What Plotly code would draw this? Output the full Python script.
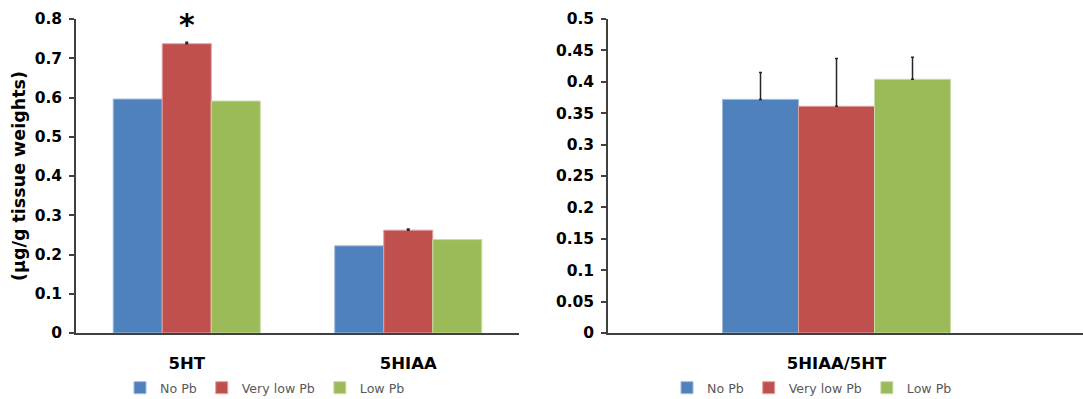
import plotly.graph_objects as go

groups = ["No Pb", "Very low Pb", "Low Pb"]
colors = ["#4F81BD", "#C0504D", "#9BBB59"]
edge = ["#9DB9DD", "#E0A09E", "#C8DBA6"]

left_cats = ["5HT", "5HIAA"]
left_vals = {
    "No Pb": [0.596, 0.222],
    "Very low Pb": [0.737, 0.262],
    "Low Pb": [0.591, 0.238],
}
left_err = {
    "No Pb": None,
    "Very low Pb": [0.004, 0.003],
    "Low Pb": None,
}

right_cats = ["5HIAA/5HT"]
right_vals = {
    "No Pb": [0.372],
    "Very low Pb": [0.361],
    "Low Pb": [0.404],
}
right_err = {
    "No Pb": [0.043],
    "Very low Pb": [0.076],
    "Low Pb": [0.035],
}

left_ticks = [0, 0.1, 0.2, 0.3, 0.4, 0.5, 0.6, 0.7, 0.8]
right_ticks = [0, 0.05, 0.1, 0.15, 0.2, 0.25, 0.3, 0.35, 0.4, 0.45, 0.5]

fig = go.Figure()

for g, c, e in zip(groups, colors, edge):
    err = left_err[g]
    fig.add_trace(go.Bar(
        x=left_cats, y=left_vals[g], name=g, marker=dict(color=c, line=dict(color=e, width=1)),
        error_y=dict(type="data", array=err, symmetric=False, arrayminus=[0] * len(left_cats),
                     color="#262626", thickness=1.5, width=1.5, visible=err is not None),
        xaxis="x", yaxis="y", legend="legend",
    ))

for g, c, e in zip(groups, colors, edge):
    err = right_err[g]
    fig.add_trace(go.Bar(
        x=right_cats, y=right_vals[g], name=g, marker=dict(color=c, line=dict(color=e, width=1)),
        error_y=dict(type="data", array=err, symmetric=False, arrayminus=[0],
                     color="#262626", thickness=1.5, width=1.5),
        xaxis="x2", yaxis="y2", legend="legend2",
    ))

W, H = 1083, 399
axis_col = "#404040"
tickfont = dict(family="DejaVu Sans", size=15.5, color="#000000", weight="bold")
catfont = dict(family="DejaVu Sans", size=16.5, color="#000000", weight="bold")
legfont = dict(family="DejaVu Sans", size=12.6, color="#595959")

fig.update_layout(
    width=W, height=H,
    margin=dict(l=0, r=0, t=0, b=0, autoexpand=False),
    paper_bgcolor="white", plot_bgcolor="white",
    barmode="group", bargap=0.336, bargroupgap=0,
    font=dict(family="DejaVu Sans"),
    xaxis=dict(domain=[76 / W, 519 / W], range=[-0.5, 1.5], anchor="y", automargin=False,
               showline=True, linecolor=axis_col, linewidth=1.5, ticks="",
               tickfont=catfont, ticklabelstandoff=14, showgrid=False, zeroline=False),
    yaxis=dict(domain=[1 - 333 / H, 1 - 19 / H], range=[0, 0.8], anchor="x", automargin=False,
               tickvals=left_ticks, ticktext=[f"{v:g}" for v in left_ticks],
               showline=True, linecolor=axis_col, linewidth=1.5, ticks="outside",
               ticklen=5, tickcolor=axis_col, tickwidth=1.5,
               tickfont=tickfont, ticklabelstandoff=4, showgrid=False, zeroline=False,
               title=dict(text="(µg/g tissue weights)", standoff=5,
                          font=dict(family="DejaVu Sans", size=17.5, color="#000000", weight="bold"))),
    xaxis2=dict(domain=[608 / W, 1.0], range=[-0.6654, 0.7178], anchor="y2", automargin=False,
                showline=True, linecolor=axis_col, linewidth=1.5, ticks="",
                tickfont=catfont, ticklabelstandoff=14, showgrid=False, zeroline=False),
    yaxis2=dict(domain=[1 - 333 / H, 1 - 19 / H], range=[0, 0.5], anchor="x2", automargin=False,
                tickvals=right_ticks, ticktext=[f"{v:g}" for v in right_ticks],
                showline=True, linecolor=axis_col, linewidth=1.5, ticks="outside",
                ticklen=5, tickcolor=axis_col, tickwidth=1.5,
                tickfont=tickfont, ticklabelstandoff=4, showgrid=False, zeroline=False),
    legend=dict(orientation="h", x=265 / W, xanchor="center", y=1 - 388 / H, yanchor="middle",
                font=legfont, itemwidth=30, bgcolor="rgba(0,0,0,0)"),
    legend2=dict(orientation="h", x=812 / W, xanchor="center", y=1 - 388 / H, yanchor="middle",
                 font=legfont, itemwidth=30, bgcolor="rgba(0,0,0,0)"),
    annotations=[dict(x="5HT", y=0.797, xref="x", yref="y", text="<b>*</b>", showarrow=False,
                      font=dict(family="DejaVu Sans", size=30, color="#000000"),
                      yanchor="middle", yshift=-4)],
)

fig.write_html("out.html")
